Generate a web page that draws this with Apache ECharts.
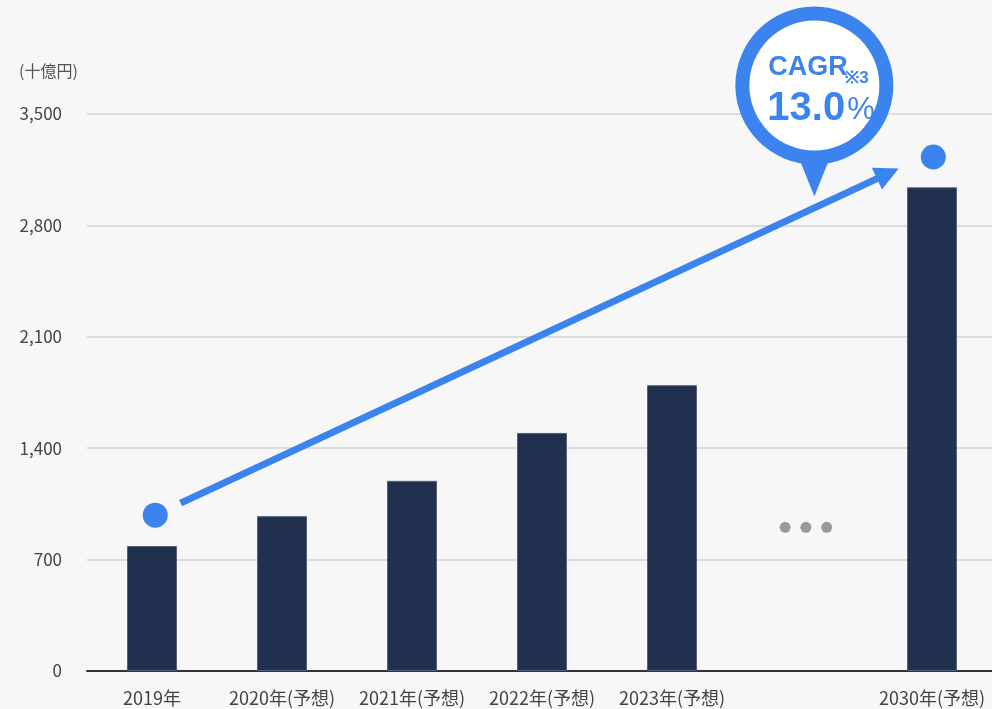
<!DOCTYPE html>
<html lang="ja">
<head>
    <meta charset="UTF-8">
    <title>市場規模</title>
    <script src="https://cdn.jsdelivr.net/npm/echarts@6/dist/echarts.min.js"></script>
    <style>
        *{
            margin: 0;
            padding: 0;
        }
        body{
            background: #f7f7f7;
        }
        #chart{
            width: 992px;
            height: 709px;
        }
    </style>
</head>
<body>
    <div id="chart"></div>
<script>
    // カテゴリ（6番目は省略部分の空欄）
    var years = ['2019年', '2020年(予想)', '2021年(予想)', '2022年(予想)', '2023年(予想)', '', '2030年(予想)'];
    // 市場規模（十億円）
    var marketSize = [785, 973, 1195, 1496, 1796, null, 3039];
    var yTicks = [0, 700, 1400, 2100, 2800, 3500];

    // 装飾用（隠し値軸 x=-0.5〜6.5 上の座標）
    var markerDots = [[0.025, 979], [6.01, 3230]];
    var ellipsisDots = [[4.87, 903], [5.03, 903], [5.19, 903]];
    var cagrArrow = [[0.22, 1055], [5.66, 3125]];
    var cagrBubble = [[5.095, 2982]];
    var cagrText = ['CAGR', '※3', '13.0', '%'];

    var blue = '#3b84f0';
    var chart = echarts.init(document.getElementById('chart'));

    var option = {
        backgroundColor: '#f7f7f7',
        textStyle: {
            fontFamily: '"Noto Sans CJK JP", "Noto Sans", sans-serif'
        },
        title: {
            text: '(十億円)',
            left: 14,
            top: 58,
            textStyle: {
                fontSize: 16,
                fontWeight: 'normal',
                color: '#555',
                fontFamily: '"Noto Sans CJK JP", sans-serif'
            }
        },
        grid: {
            left: 87,
            width: 910,
            top: 114,
            bottom: 38,
            containLabel: false,
            outerBoundsMode: 'none'
        },
        xAxis: [{
            type: 'category',
            data: years,
            axisTick: { show: false },
            axisLine: { lineStyle: { color: '#333', width: 2 } },
            axisLabel: {
                interval: 0,
                margin: 18,
                fontSize: 18,
                color: '#444'
            }
        }, {
            // 装飾の位置決め用の隠し軸
            type: 'value',
            min: -0.5,
            max: 6.5,
            show: false
        }],
        yAxis: {
            type: 'value',
            min: yTicks[0],
            max: yTicks[yTicks.length - 1],
            interval: 700,
            axisLine: { show: false },
            axisTick: { show: false },
            axisLabel: {
                margin: 25,
                fontSize: 17,
                color: '#444',
                formatter: function (v) {
                    return v.toLocaleString('en-US');
                }
            },
            splitLine: { lineStyle: { color: '#dcdcdc', width: 2 } }
        },
        series: [{
            type: 'bar',
            data: marketSize,
            barWidth: 50,
            itemStyle: {
                color: '#22304f',
                borderColor: '#56627d',
                borderWidth: 1
            },
            silent: true
        }, {
            type: 'scatter',
            xAxisIndex: 1,
            data: ellipsisDots,
            symbolSize: 11,
            itemStyle: { color: '#9a9a9a', opacity: 1 },
            silent: true
        }, {
            type: 'lines',
            coordinateSystem: 'cartesian2d',
            xAxisIndex: 1,
            polyline: false,
            symbol: ['none', 'triangle'],
            symbolSize: 24,
            lineStyle: { color: blue, width: 7, opacity: 1, cap: 'butt' },
            data: [{ coords: cagrArrow }],
            silent: true,
            z: 3
        }, {
            type: 'scatter',
            xAxisIndex: 1,
            data: markerDots,
            symbolSize: 25,
            itemStyle: { color: blue, opacity: 1 },
            silent: true,
            z: 4
        }, {
            type: 'custom',
            xAxisIndex: 1,
            data: cagrBubble,
            silent: true,
            z: 5,
            renderItem: function (params, api) {
                var tip = api.coord([api.value(0), api.value(1)]);
                var cx = tip[0];
                var cy = tip[1] - 111;
                var font = '"Liberation Sans", Arial, sans-serif';
                return {
                    type: 'group',
                    children: [{
                        type: 'polygon',
                        shape: { points: [[tip[0] - 16, tip[1] - 40], [tip[0] + 16, tip[1] - 40], tip] },
                        style: { fill: blue }
                    }, {
                        type: 'circle',
                        shape: { cx: cx, cy: cy, r: 79 },
                        style: { fill: blue }
                    }, {
                        type: 'circle',
                        shape: { cx: cx, cy: cy, r: 65 },
                        style: { fill: '#ffffff' }
                    }, {
                        type: 'text',
                        style: {
                            text: cagrText[0], x: cx - 46, y: cy - 18,
                            align: 'left', verticalAlign: 'middle',
                            fill: blue, fontSize: 27, fontWeight: 'bold', fontFamily: font
                        }
                    }, {
                        type: 'text',
                        style: {
                            text: cagrText[1], x: cx + 31, y: cy - 7,
                            align: 'left', verticalAlign: 'middle',
                            fill: blue, fontSize: 17, fontWeight: 'bold', fontFamily: font
                        }
                    }, {
                        type: 'text',
                        style: {
                            text: cagrText[2], x: cx - 47, y: cy + 24,
                            align: 'left', verticalAlign: 'middle',
                            fill: blue, fontSize: 40, fontWeight: 'bold', fontFamily: font
                        }
                    }, {
                        type: 'text',
                        style: {
                            text: cagrText[3], x: cx + 33, y: cy + 25,
                            align: 'left', verticalAlign: 'middle',
                            fill: blue, fontSize: 31, fontWeight: 'normal', fontFamily: font
                        }
                    }]
                };
            }
        }]
    };

    chart.setOption(option);
</script>
</body>
</html>
